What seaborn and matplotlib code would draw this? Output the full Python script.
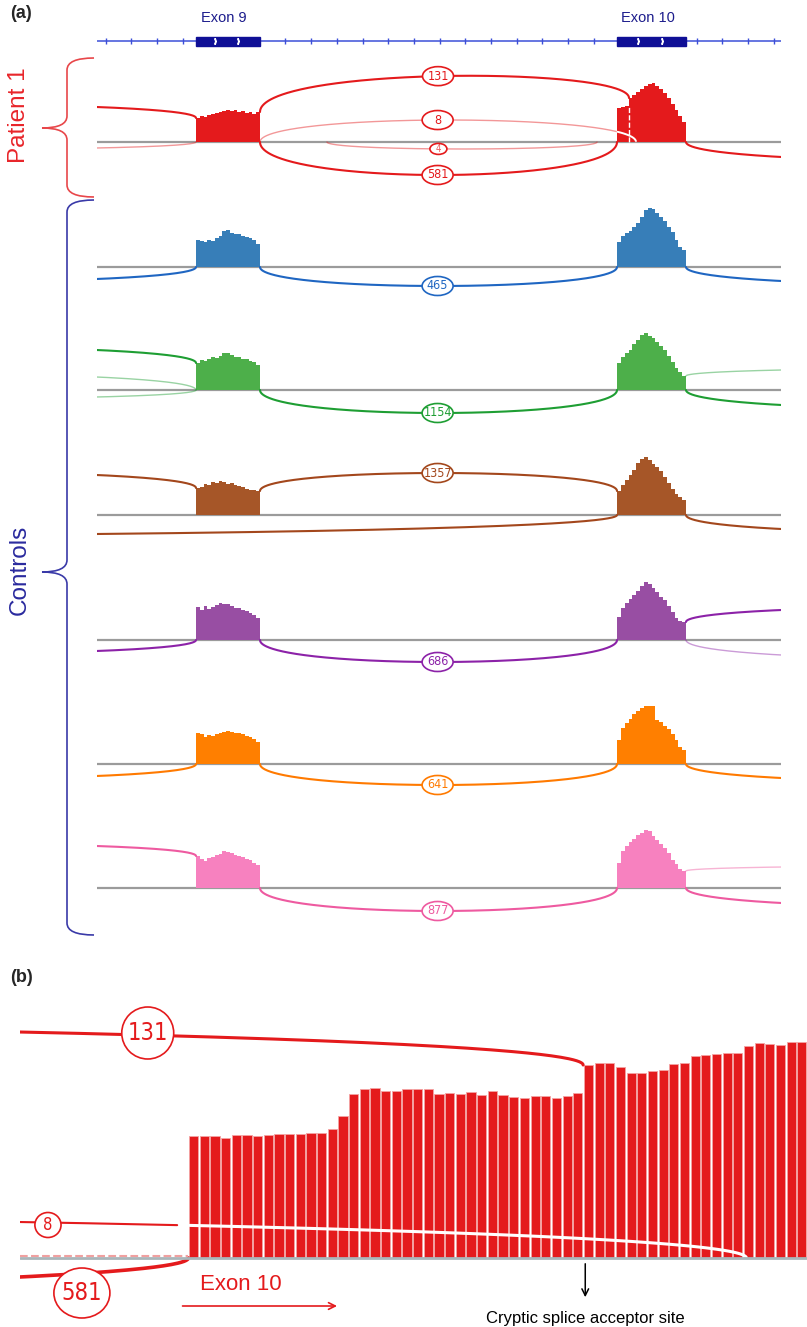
import numpy as np
import matplotlib
matplotlib.use("Agg")  # no display in the sandbox
import matplotlib.pyplot as plt
from matplotlib import font_manager
import seaborn as sns
from matplotlib.patches import Ellipse, Rectangle, PathPatch
from matplotlib.path import Path

sns.set_theme(style="white")
plt.rcParams['font.family'] = ['Liberation Sans', 'DejaVu Sans']

# narrow font for the read-count labels (Arial Narrow look)
_fonts = {(f.name, f.stretch) for f in font_manager.fontManager.ttflist}
if any(n == 'Liberation Sans Narrow' for n, _ in _fonts):
    NARROW = dict(family='Liberation Sans Narrow')
elif ('DejaVu Sans', 'condensed') in _fonts or ('DejaVu Sans', 'semi-condensed') in _fonts:
    NARROW = dict(family='DejaVu Sans', stretch='condensed')
else:
    NARROW = dict(family='Liberation Sans')
NARROW_SCALE = 1.0 if NARROW['family'] != 'Liberation Sans' else 0.85

# =======================================================
# Data
# =======================================================
# panel (a): relative genomic coordinates of the view
region = (0, 684)
exon9 = (99, 163)
exon10 = (520, 589)
cryptic_site = 532

# coverage over exon 9 / exon 10 (read depth, arbitrary units)
p1_ex9 = [24, 26, 25, 27, 28, 29, 30, 31, 32, 31, 32, 30, 31, 29, 30, 28, 30]
p1_ex10 = [34, 35, 36, 44, 47, 50, 53, 56, 58, 59, 56, 53, 49, 44, 38, 32, 26, 20]
blue_ex9 = [27, 26, 25, 27, 26, 29, 31, 36, 37, 34, 33, 33, 31, 30, 29, 27, 23]
blue_ex10 = [25, 31, 34, 36, 40, 44, 50, 57, 59, 58, 54, 50, 46, 40, 35, 27, 20, 17]
green_ex9 = [27, 30, 29, 31, 33, 32, 34, 37, 37, 35, 33, 33, 31, 31, 29, 28, 25]
green_ex10 = [27, 33, 37, 40, 46, 50, 55, 57, 54, 52, 48, 44, 40, 34, 28, 22, 18, 14]
brown_ex9 = [27, 28, 31, 30, 33, 32, 34, 33, 31, 32, 30, 29, 28, 26, 25, 25, 24]
brown_ex10 = [24, 30, 35, 40, 45, 52, 56, 58, 55, 51, 48, 44, 38, 32, 26, 21, 18, 15]
purple_ex9 = [33, 30, 34, 31, 33, 35, 37, 36, 36, 34, 32, 32, 30, 29, 27, 25, 22]
purple_ex10 = [23, 32, 37, 41, 45, 49, 54, 58, 56, 52, 48, 43, 40, 34, 28, 22, 19, 18]
orange_ex9 = [31, 30, 27, 29, 28, 30, 31, 32, 33, 32, 31, 31, 30, 28, 27, 25, 22]
orange_ex10 = [24, 36, 41, 45, 50, 53, 56, 58, 58, 58, 44, 42, 38, 35, 30, 24, 17, 14]
pink_ex9 = [32, 29, 27, 30, 31, 33, 34, 37, 36, 35, 33, 32, 31, 29, 28, 25, 23]
pink_ex10 = [25, 37, 42, 46, 49, 53, 55, 58, 57, 52, 48, 44, 40, 35, 28, 24, 19, 17]

# junctions: start, end, reads (None = label off view), arc height (+ above / - below), faint
p1_junc = [(-300, 99, None, 35, False), (-300, 99, None, -6, True),
           (163, 532, 131, 66, False), (163, 539, 8, 22, True),
           (230, 500, 4, -7, True), (163, 520, 581, -33, False),
           (589, 984, None, -15, False)]
blue_junc = [(-300, 99, None, -12, False), (163, 520, 465, -19, False),
             (589, 984, None, -14, False)]
green_junc = [(-300, 99, None, 40, False), (-300, 99, None, 13, True),
              (-300, 99, None, -7, True), (163, 520, 1154, -23, False),
              (589, 984, None, 20, True), (589, 984, None, -15, False)]
brown_junc = [(-300, 99, None, 40, False), (163, 520, 1357, 42, False),
              (-700, 520, None, -19, False), (589, 984, None, -14, False)]
purple_junc = [(-300, 99, None, -11, False), (163, 520, 686, -22, False),
               (589, 984, None, 30, False), (589, 984, None, -15, True)]
orange_junc = [(-300, 99, None, -12, False), (163, 520, 641, -21, False),
               (589, 984, None, -14, False)]
pink_junc = [(-300, 99, None, 42, False), (163, 520, 877, -23, False),
             (589, 984, None, 21, True), (589, 984, None, -15, False)]

tracks = [(p1_ex9, p1_ex10, p1_junc), (blue_ex9, blue_ex10, blue_junc),
          (green_ex9, green_ex10, green_junc), (brown_ex9, brown_ex10, brown_junc),
          (purple_ex9, purple_ex10, purple_junc), (orange_ex9, orange_ex10, orange_junc),
          (pink_ex9, pink_ex10, pink_junc)]

# panel (b): per-base coverage at the start of exon 10 (patient 1)
b_cov = [122, 122, 122, 120, 123, 123, 122, 123, 124, 124, 124, 125, 125, 129,
         142, 164, 169, 170, 167, 167, 169, 169, 169, 164, 165, 164, 166, 163,
         167, 163, 161, 160, 162, 162, 160, 162, 165, 193, 195, 195, 191, 185,
         185, 187, 188, 194, 195, 202, 203, 204, 205, 205, 212, 215, 214, 213,
         216, 216, 216]
b_cryptic = 37
b_junc = [(-250, 37, 131, 226), (-250, 52.3, 8, 36), (-250, 0, 581, -19)]
b_label_x = [-3.8, -13.15, -9.97]
b_label_y = [225, 33, -35]

# =======================================================
# Style / layout
# =======================================================
W, H = 807, 1327
fill_colors = ['#e41a1c', '#377eb8', '#4daf4a', '#a65628', '#984ea3', '#ff7f00', '#f781bf']
arc_colors = ['#e41a1c', '#1f66c2', '#1e9e33', '#a3471c', '#8c22a8', '#ff7a00', '#ee5aa0']
baselines_px = [142, 267, 390, 515, 640, 764, 888]
RED = '#e41a1c'


def px_axes(fig, x0, y0, x1, y1):
    ax = fig.add_axes([x0 / W, 1 - y1 / H, (x1 - x0) / W, (y1 - y0) / H])
    ax.set_axis_off()
    ax.patch.set_alpha(0)
    return ax


def bezier(x0, x1, y0, y1, c, n=300):
    t = np.linspace(0, 1, n)
    x = x0 + (x1 - x0) * (3 * t**2 - 2 * t**3)
    y = (1 - t)**3 * y0 + 3 * (1 - t) * t * c + t**3 * y1
    return x, y


def control_for_edge(x0, x1, y0, y1, xe, ye):
    s = (xe - x0) / (x1 - x0)
    tt = np.linspace(0, 1, 4001)
    t = np.interp(s, 3 * tt**2 - 2 * tt**3, tt)
    return (ye - (1 - t)**3 * y0 - t**3 * y1) / (3 * t * (1 - t))


def junction_curve(start, end, height, h0, h1, view):
    lo, hi = view
    if start < lo:   # partner exon is left of the view
        c = control_for_edge(start, end, height, h1, lo, height)
        return bezier(start, end, height, h1, c)
    if end > hi:
        c = control_for_edge(start, end, h0, height, hi, height)
        return bezier(start, end, h0, height, c)
    c = (height - (h0 + h1) / 8) / 0.75
    return bezier(start, end, h0, h1, c)


def anchor(cov, pos, height):
    if height <= 0:
        return 0.0
    cv = float(cov(np.array([pos]))[0])
    return cv if height > cv else 0.0


def draw_arc(ax, x, y, cov, color, lw, alpha, white_lw=None):
    # the part of an arc running over the coverage is drawn in white
    mask = (y > 0.5) & (y < cov(x) - 0.5)
    cut = np.flatnonzero(np.diff(mask.astype(int))) + 1
    for sx, sy, sm in zip(np.split(x, cut), np.split(y, cut), np.split(mask, cut)):
        if len(sx) < 2:
            continue
        if sm[0]:
            sns.lineplot(x=sx, y=sy, sort=False, estimator=None, color='white',
                         linewidth=white_lw or lw, ax=ax, zorder=3)
        else:
            sns.lineplot(x=sx, y=sy, sort=False, estimator=None, color=color,
                         linewidth=lw, alpha=alpha, ax=ax, zorder=3)


def make_cov(ex9_vals, ex10_vals):
    def cov(x):
        x = np.asarray(x, float)
        out = np.zeros_like(x)
        for (a, b), vals in ((exon9, ex9_vals), (exon10, ex10_vals)):
            vals = np.asarray(vals, float)
            inside = (x >= a) & (x <= b)
            idx = np.clip(((x[inside] - a) / (b - a) * len(vals)).astype(int), 0, len(vals) - 1)
            out[inside] = vals[idx]
        return out
    return cov


def label(ax, x, y, text, color, w, h, fs, alpha=1.0):
    ax.add_patch(Ellipse((x, y), w, h, facecolor='white', edgecolor=color,
                         lw=1.2, zorder=5, clip_on=False))
    ax.text(x, y, text, color=color, fontsize=fs * NARROW_SCALE, alpha=alpha,
            ha='center', va='center', zorder=6, clip_on=False, **NARROW)


def brace(ax, x, top, bottom, tip, color, arm=27, r=12, nose=25):
    verts = [(x + arm, top), (x, top), (x, top + r),
             (x, tip - r), (x, tip), (x - nose, tip),
             (x, tip), (x, tip + r),
             (x, bottom - r), (x, bottom), (x + arm, bottom)]
    codes = [Path.MOVETO, Path.CURVE3, Path.CURVE3,
             Path.LINETO, Path.CURVE3, Path.CURVE3,
             Path.CURVE3, Path.CURVE3,
             Path.LINETO, Path.CURVE3, Path.CURVE3]
    ax.add_patch(PathPatch(Path(verts, codes), fill=False, edgecolor=color, lw=1.2))


fig = plt.figure(figsize=(W / 100, H / 100), dpi=100)

# ---------------------------------------------------
# Overlay: panel letters and group braces
# ---------------------------------------------------
ov = px_axes(fig, 0, 0, W, H)
ov.set_xlim(0, W)
ov.set_ylim(H, 0)
ov.text(10, 14, '(a)', fontsize=13, fontweight='bold', va='center', ha='left')
ov.text(10, 978, '(b)', fontsize=13, fontweight='bold', va='center', ha='left')
brace(ov, 67, 58, 197, 128, '#e8474a')
brace(ov, 67, 200, 935, 572, '#3a3aa8')
ov.text(19, 115, 'Patient 1', color='#e8252a', fontsize=17.5, rotation=90,
        ha='center', va='center')
ov.text(20, 570, 'Controls', color='#2a2a9e', fontsize=17.5, rotation=90,
        ha='center', va='center')

# ---------------------------------------------------
# Gene model track
# ---------------------------------------------------
gx = px_axes(fig, 97, 30, 781, 52)
gx.set_xlim(*region)
gx.set_ylim(-11, 11)
sns.lineplot(x=list(region), y=[0, 0], color='#3c4fd8', linewidth=1.1, ax=gx)
ticks = [t for t in np.arange(8.5, region[1], 25.7)
         if not (exon9[0] - 3 < t < exon9[1] + 3 or exon10[0] - 3 < t < exon10[1] + 3)]
gx.plot(ticks, np.zeros(len(ticks)), ls='none', marker='|', ms=5, mew=1, color='#3c4fd8')
for (a, b), name in ((exon9, 'Exon 9'), (exon10, 'Exon 10')):
    gx.add_patch(Rectangle((a, -4.5), b - a, 9, color='#0f0f96', zorder=3))
    gx.plot([a + (b - a) * 0.3, a + (b - a) * 0.65], [0, 0], ls='none', marker=r'$\rangle$',
            ms=4, color='white', zorder=4)
    gx.text((a + b) / 2 - 4, 23, name, color='#1c1c8c', fontsize=10.5,
            ha='center', va='center', clip_on=False)

# ---------------------------------------------------
# Sashimi tracks
# ---------------------------------------------------
xmid = (exon9[1] + exon10[0]) / 2
for k, (ex9, ex10, juncs) in enumerate(tracks):
    b = baselines_px[k]
    ax = px_axes(fig, 97, b - 80, 781, b + 40)
    ax.set_xlim(*region)
    ax.set_ylim(-40, 80)
    cov = make_cov(ex9, ex10)

    sns.lineplot(x=list(region), y=[0, 0], color='#9b9b9b', linewidth=1.6, ax=ax, zorder=1)
    for (a, e), vals in ((exon9, ex9), (exon10, ex10)):
        edges = np.linspace(a, e, len(vals) + 1)
        ax.fill_between(edges, 0, list(vals) + [vals[-1]], step='post',
                        color=fill_colors[k], lw=0, zorder=2)

    for start, end, reads, height, faint in juncs:
        h0 = anchor(cov, start, height)
        h1 = anchor(cov, end, height)
        x, y = junction_curve(start, end, height, h0, h1, region)
        lw = 1.0 if faint else 1.5
        alpha = 0.45 if faint else 1.0
        draw_arc(ax, x, y, cov, arc_colors[k], lw, alpha, white_lw=1.4)
        if reads is not None:
            i = np.argmin(np.abs(x - xmid))
            small = reads < 5
            label(ax, x[i], y[i], str(reads), arc_colors[k],
                  17 if small else 31, 11 if small else 19, 7 if small else 9,
                  alpha=0.7 if small else 1.0)

    if k == 0:
        ax.plot([cryptic_site, cryptic_site], [0, 36], color='white', ls='--', lw=1, zorder=4)

# ---------------------------------------------------
# Panel (b): zoom on the exon 10 acceptor
# ---------------------------------------------------
bx = px_axes(fig, 20, 1000, 807, 1327)
bview = (-15.77, 57.98)
bpos = np.arange(len(b_cov)) + 0.5
sns.barplot(x=bpos, y=b_cov, native_scale=True, width=0.86, color=RED, saturation=1,
            edgecolor='#f4a3a3', linewidth=0.6, errorbar=None, ax=bx, zorder=2)
bx.set_axis_off()
bx.set_xlim(*bview)
bx.set_ylim(-69, 258)


def bcov(x):
    x = np.asarray(x, float)
    out = np.zeros_like(x)
    inside = (x >= 0) & (x < len(b_cov))
    out[inside] = np.asarray(b_cov, float)[x[inside].astype(int)]
    return out


bx.plot([bview[0], bview[1]], [0, 0], color='#a9b6ba', lw=2, zorder=4)
bx.plot([bview[0], 0], [2, 2], color='#f0a0a0', ls='--', lw=1.5, zorder=4)

b_lw = {131: 2.2, 8: 1.5, 581: 2.6}
b_lab = {131: (4.87, 52, 17), 8: (2.45, 25, 12), 581: (5.25, 50, 17)}
for (start, end, reads, height), lx, ly in zip(b_junc, b_label_x, b_label_y):
    h1 = anchor(bcov, end, height)
    x, y = junction_curve(start, end, height, 0.0, h1, bview)
    draw_arc(bx, x, y, bcov, RED, b_lw[reads], 1.0, white_lw=2.2)
    w, h, fs = b_lab[reads]
    label(bx, lx, ly, str(reads), RED, w, h, fs)

bx.text(1.1, -27, 'Exon 10', color=RED, fontsize=16, ha='left', va='center')
bx.annotate('', xy=(14.2, -48), xytext=(-0.8, -48),
            arrowprops=dict(arrowstyle='->', color=RED, lw=1.2))
bx.annotate('', xy=(b_cryptic + 0.2, -42), xytext=(b_cryptic + 0.2, -3),
            arrowprops=dict(arrowstyle='->', color='black', lw=1.1))
bx.text(b_cryptic + 0.2, -60, 'Cryptic splice acceptor site', color='black',
        fontsize=12, ha='center', va='center', clip_on=False)

fig.savefig('out.png', dpi=100)
plt.close(fig)
